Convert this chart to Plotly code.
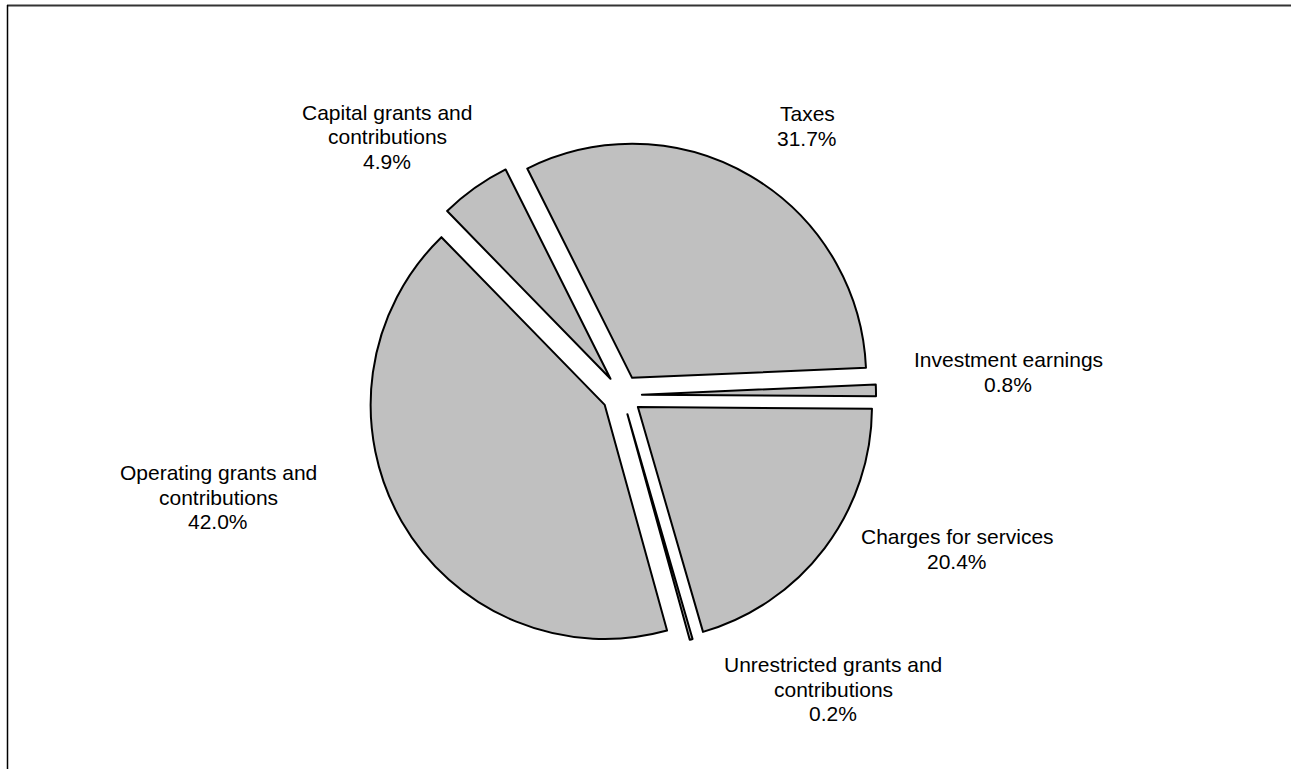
import plotly.graph_objects as go

W, H = 1291, 769

# ---- data ----
categories = ["Taxes", "Investment earnings", "Charges for services",
              "Unrestricted grants and contributions",
              "Operating grants and contributions",
              "Capital grants and contributions"]
shares = [31.7, 0.8, 20.4, 0.2, 42.0, 4.9]
label_lines = [["Taxes"], ["Investment earnings"], ["Charges for services"],
               ["Unrestricted grants and", "contributions"],
               ["Operating grants and", "contributions"],
               ["Capital grants and", "contributions"]]

# ---- label placement (pixel centres of the label blocks) ----
label_pos = [(807, 126), (1008, 372), (957, 549), (833, 689), (218, 497), (387, 137)]
LINE_H = 24.5
FONT = "Liberation Sans, Arial, sans-serif"

fig = go.Figure()

cx, cy, rad = 622, 395, 254
fig.add_trace(go.Pie(
    labels=categories, values=shares, sort=False, direction="clockwise",
    rotation=-26.6, pull=[0.085] * len(shares),
    marker=dict(colors=["#c0c0c0"] * len(shares), line=dict(color="#000000", width=2)),
    textinfo="none", hoverinfo="label+percent", showlegend=False,
    domain=dict(x=[(cx - rad) / W, (cx + rad) / W],
                y=[(H - cy - rad) / H, (H - cy + rad) / H]),
))

annotations = []
for lines, val, (px, py) in zip(label_lines, shares, label_pos):
    all_lines = lines + [f"{val:.1f}%"]
    n = len(all_lines)
    for i, t in enumerate(all_lines):
        ly = py + (i - (n - 1) / 2) * LINE_H
        annotations.append(dict(
            text=t, x=px / W, y=1 - ly / H, xref="paper", yref="paper",
            xanchor="center", yanchor="middle", showarrow=False,
            font=dict(family=FONT, size=21, color="#000000")))

fig.update_layout(
    width=W, height=H, margin=dict(l=0, r=0, t=0, b=0),
    paper_bgcolor="white", plot_bgcolor="white",
    annotations=annotations,
    shapes=[
        dict(type="line", xref="paper", yref="paper", x0=7 / W, x1=1.01,
             y0=1 - 5.5 / H, y1=1 - 5.5 / H, line=dict(color="#333333", width=2)),
        dict(type="line", xref="paper", yref="paper", x0=7.5 / W, x1=7.5 / W,
             y0=-0.01, y1=1 - 5 / H, line=dict(color="#000000", width=1.5)),
    ],
)

fig.write_html("out.html")
